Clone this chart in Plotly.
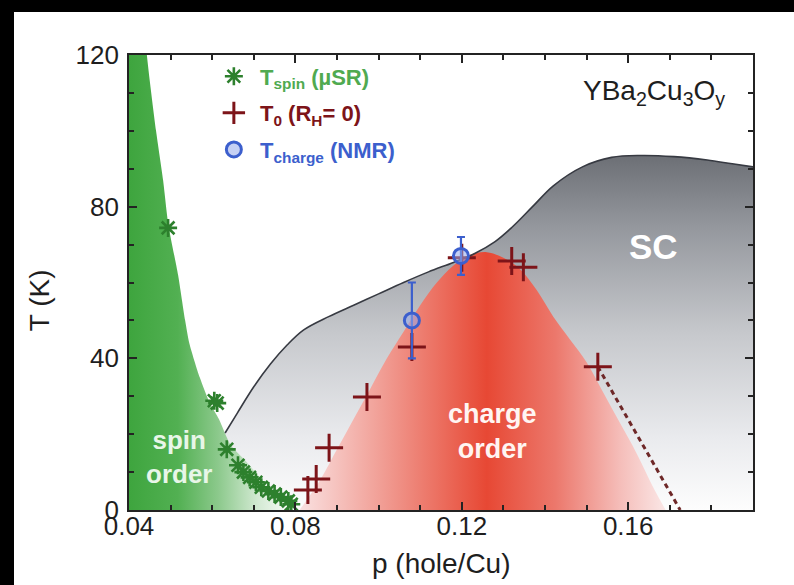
import plotly.graph_objects as go

# ---- Superconducting dome Tc(p) ----
sc_p = [0.0631, 0.066, 0.070, 0.074, 0.078, 0.082, 0.088, 0.094, 0.100, 0.106, 0.112,
        0.118, 0.123, 0.128, 0.132, 0.137, 0.142, 0.149, 0.156, 0.163, 0.171, 0.179,
        0.185, 0.190]
sc_T = [20.3, 25.5, 32.5, 38.5, 43.5, 47.5, 51.0, 54.0, 57.0, 60.0, 62.8,
        65.3, 67.6, 70.8, 74.5, 80.0, 85.5, 90.5, 93.0, 93.5, 93.2, 92.3,
        91.3, 90.5]

# ---- Spin-order boundary (region to the left of it) ----
spin_edge_p = [0.0300, 0.0437, 0.0443, 0.0465, 0.0482, 0.0495, 0.0518, 0.0535, 0.0545,
               0.0570, 0.0595, 0.0616, 0.0645, 0.0680, 0.0712, 0.0746, 0.0805, 0.0815,
               0.0300]
spin_edge_T = [130, 130, 120, 100, 87, 75, 62, 50, 44,
               35, 28, 24, 17, 13, 9, 5, 0, -8,
               -8]

# ---- Charge-order dome ----
charge_p = [0.081, 0.086, 0.090, 0.094, 0.098, 0.102, 0.106, 0.110, 0.114, 0.118, 0.122,
            0.126, 0.130, 0.134, 0.138, 0.142, 0.146, 0.150, 0.154, 0.158, 0.162, 0.166,
            0.169]
charge_T = [0, 8, 16, 24, 32, 40, 47, 54, 60, 64.5, 67.3,
            68, 66.5, 63.5, 58, 51, 45, 39, 31, 23, 15, 6,
            0]

# ---- Measured points ----
spin_p = [0.0494, 0.0605, 0.0612, 0.0635, 0.0662, 0.0675, 0.0690, 0.0705, 0.0718,
          0.0735, 0.0750, 0.0765, 0.0783, 0.0790]
spin_T = [74.4, 28.8, 28.2, 16.0, 11.8, 10.0, 8.6, 7.3, 6.0,
          5.0, 4.2, 3.4, 2.4, 1.5]

t0_p = [0.0830, 0.0850, 0.0881, 0.0972, 0.1080, 0.1200, 0.1320, 0.1348, 0.1527]
t0_T = [5.3, 8.2, 16.4, 29.8, 43.0, 66.5, 65.7, 64.0, 37.8]

t0_extrap_p = [0.1527, 0.1725]
t0_extrap_T = [37.8, 0.0]

nmr_p = [0.1080, 0.1198]
nmr_T = [50.0, 67.0]
nmr_err_up = [10.0, 5.0]
nmr_err_down = [10.0, 5.0]

FONT = "Liberation Sans, Arial, Helvetica, sans-serif"
GREEN = "rgb(45,128,45)"
DARKRED = "rgb(125,20,25)"
BLUE = "rgb(60,95,205)"
NB = "\u00a0"

fig = go.Figure()

# superconducting region: grey, fading toward low T
fig.add_trace(go.Scatter(
    x=sc_p, y=sc_T, mode="lines", line=dict(width=0, shape="spline"),
    fill="tozeroy",
    fillgradient=dict(type="vertical", start=0, stop=93.5,
                      colorscale=[[0, "rgb(253,253,253)"], [0.2, "rgb(234,235,238)"],
                                  [0.5, "rgb(198,200,204)"], [0.8, "rgb(148,151,157)"],
                                  [1, "rgb(108,111,117)"]]),
    showlegend=False, hoverinfo="skip"))

# spin-order region: green fading to white at higher doping
fig.add_trace(go.Scatter(
    x=spin_edge_p, y=spin_edge_T, mode="lines", line=dict(width=0, shape="spline", smoothing=0.6),
    fill="toself",
    fillgradient=dict(type="horizontal", start=0.04, stop=0.079,
                      colorscale=[[0, "rgb(62,165,62)"], [0.3, "rgb(82,176,82)"],
                                  [0.55, "rgb(140,201,140)"], [0.8, "rgb(212,234,212)"],
                                  [1, "rgb(250,252,250)"]]),
    showlegend=False, hoverinfo="skip"))

# charge-order dome: red in the middle, fading at both sides
fig.add_trace(go.Scatter(
    x=charge_p, y=charge_T, mode="lines", line=dict(width=0, shape="spline"),
    fill="tozeroy",
    fillgradient=dict(type="horizontal", start=0.08, stop=0.172,
                      colorscale=[[0, "rgb(250,228,228)"], [0.25, "rgb(240,150,140)"],
                                  [0.5, "rgb(231,72,52)"], [0.68, "rgb(236,120,108)"],
                                  [0.85, "rgb(245,190,186)"], [1, "rgb(252,242,242)"]]),
    showlegend=False, hoverinfo="skip"))

# Tc line
fig.add_trace(go.Scatter(
    x=sc_p, y=sc_T, mode="lines", line=dict(color="rgb(55,58,66)", width=1.6, shape="spline"),
    showlegend=False, hoverinfo="skip"))

# extrapolation of T0 to zero
fig.add_trace(go.Scatter(
    x=t0_extrap_p, y=t0_extrap_T, mode="lines",
    line=dict(color="rgb(110,40,40)", width=3, dash="5px,4px"),
    showlegend=False, hoverinfo="skip"))

fig.add_trace(go.Scatter(
    x=spin_p, y=spin_T, mode="markers", legendgroup="spin",
    marker=dict(symbol="asterisk-open", size=15, color=GREEN, line=dict(color=GREEN, width=2.6)),
    name=f"<b><span style='color:rgb(80,170,80)'>{NB}T<sub>spin</sub> (µSR)</span></b>"))

fig.add_trace(go.Scatter(
    x=t0_p, y=t0_T, mode="markers", legendgroup="t0",
    marker=dict(symbol="cross-thin-open", size=20, color=DARKRED, line=dict(color=DARKRED, width=3)),
    name=f"<b><span style='color:{DARKRED}'>{NB}T<sub>0</sub> (R<sub>H</sub>= 0)</span></b>"))

fig.add_trace(go.Scatter(
    x=nmr_p, y=nmr_T, mode="markers", legendgroup="nmr",
    error_y=dict(type="data", symmetric=False, array=nmr_err_up, arrayminus=nmr_err_down,
                 color=BLUE, thickness=2.2, width=4),
    marker=dict(symbol="circle", size=15, color="rgba(150,170,235,0.55)",
                line=dict(color=BLUE, width=3)),
    name=f"<b><span style='color:{BLUE}'>{NB}T<sub>charge</sub> (NMR)</span></b>"))

axis_common = dict(
    showline=True, linecolor="rgb(35,35,35)", linewidth=1.6, mirror="ticks",
    ticks="inside", ticklen=8, tickwidth=1.6, tickcolor="rgb(35,35,35)",
    showgrid=False, zeroline=False,
    tickfont=dict(family=FONT, size=26, color="rgb(30,30,30)"),
)

fig.update_xaxes(range=[0.04, 0.19], tick0=0.04, dtick=0.04, tickformat=".2f",
                 minor=dict(dtick=0.01, ticks="inside", ticklen=5, tickwidth=1.6,
                            tickcolor="rgb(35,35,35)", showgrid=False),
                 ticklabelstandoff=-8, **axis_common)
fig.update_yaxes(range=[0, 120], tick0=0, dtick=40,
                 minor=dict(dtick=10, ticks="inside", ticklen=5, tickwidth=1.6,
                            tickcolor="rgb(35,35,35)", showgrid=False),
                 ticklabelstandoff=3, **axis_common)

annotations = [
    dict(text="p (hole/Cu)", x=0.5, y=-0.1165, xref="paper", yref="paper",
         xanchor="center", yanchor="middle",
         showarrow=False, font=dict(family=FONT, size=28, color="rgb(30,30,30)")),
    dict(text="T (K)", x=-0.144, y=0.4615, xref="paper", yref="paper", textangle=-90,
         xanchor="center", yanchor="middle",
         showarrow=False, font=dict(family=FONT, size=28, color="rgb(30,30,30)")),
    dict(text="YBa<sub>2</sub>Cu<sub>3</sub>O<sub>y</sub>", x=0.958, y=0.9165,
         xref="paper", yref="paper", xanchor="right", yanchor="middle", showarrow=False,
         font=dict(family=FONT, size=28, color="rgb(30,30,30)")),
    dict(text="<b>SC</b>", x=0.1662, y=69.4, showarrow=False,
         font=dict(family=FONT, size=35, color="white")),
    dict(text="<b>charge<br>order</b>", x=0.1273, y=20.8, showarrow=False,
         font=dict(family=FONT, size=27, color="rgb(255,245,242)")),
    dict(text="<b>spin<br>order</b>", x=0.052, y=14.0, showarrow=False,
         font=dict(family=FONT, size=26, color="rgb(232,246,232)")),
]

# black frame strips along the top and left edge of the page
shapes = [
    dict(type="rect", xref="paper", yref="paper", x0=-129 / 624, x1=(14 - 129) / 624,
         y0=(510 - 585) / 455, y1=510 / 455, fillcolor="black", line=dict(width=0),
         layer="above"),
    dict(type="rect", xref="paper", yref="paper", x0=-129 / 624, x1=(794 - 129) / 624,
         y0=(510 - 12) / 455, y1=510 / 455, fillcolor="black", line=dict(width=0),
         layer="above"),
]

fig.update_layout(
    width=794, height=585,
    margin=dict(l=129, r=41, t=55, b=75),
    paper_bgcolor="white", plot_bgcolor="white",
    font=dict(family=FONT),
    annotations=annotations, shapes=shapes,
    legend=dict(x=0.136, y=0.999, xanchor="left", yanchor="top",
                bgcolor="rgba(0,0,0,0)", borderwidth=0,
                font=dict(family=FONT, size=22), tracegroupgap=5,
                itemwidth=30),
)

fig.write_html("out.html")
